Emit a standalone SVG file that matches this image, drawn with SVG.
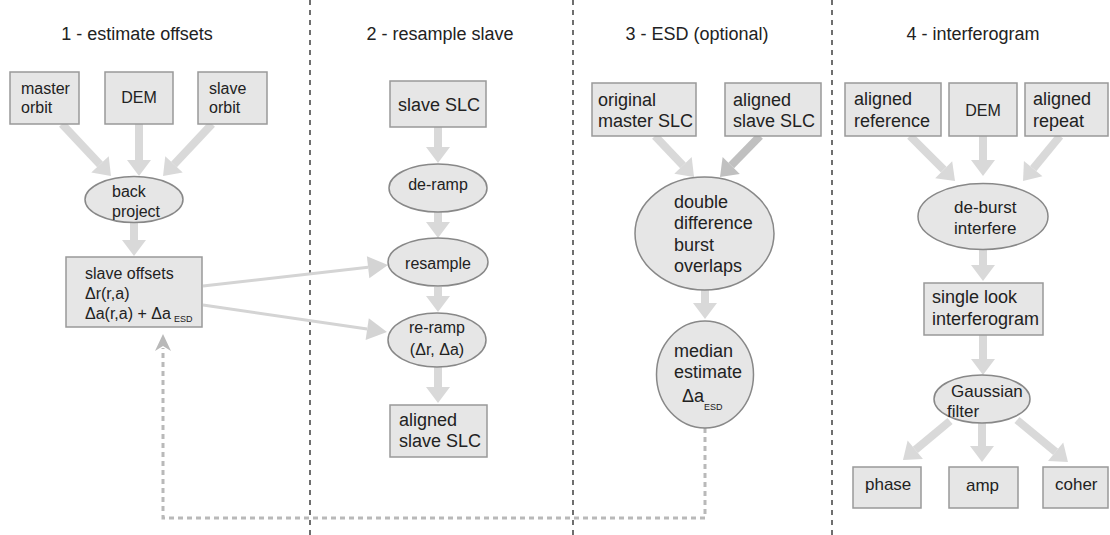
<svg xmlns="http://www.w3.org/2000/svg" width="1110" height="535" viewBox="0 0 1110 535">
<style>
text{font-family:"Liberation Sans",Arial,sans-serif;fill:#222;font-size:16px}
.t{font-size:18px}
.s18{font-size:18px}
.s17{font-size:17px}
.sub{font-size:9px}
.box{fill:#e6e6e6;stroke:#999;stroke-width:1.5}
.ell{fill:#e6e6e6;stroke:#888;stroke-width:1.5}
.sep{stroke:#222;stroke-width:1.3;stroke-dasharray:5,5;fill:none}
.thick{stroke:#d9d9d9;stroke-width:8;fill:none;marker-end:url(#ah)}
.dark{stroke:#c0c0c0;stroke-width:8;fill:none;marker-end:url(#ahd)}
.thin{stroke:#d4d4d4;stroke-width:3;fill:none;marker-end:url(#aht)}
.fb{stroke:#b9b9b9;stroke-width:3;stroke-dasharray:5,4;fill:none;marker-end:url(#ahf)}
.m{text-anchor:middle}
</style>
<defs>
<marker id="ah" markerUnits="userSpaceOnUse" markerWidth="20" markerHeight="26" refX="0" refY="0" orient="auto" overflow="visible"><path d="M0,-12 L16,0 L0,12 z" fill="#d9d9d9"/></marker>
<marker id="ahd" markerUnits="userSpaceOnUse" markerWidth="20" markerHeight="26" refX="0" refY="0" orient="auto" overflow="visible"><path d="M0,-12 L16,0 L0,12 z" fill="#c0c0c0"/></marker>
<marker id="aht" markerUnits="userSpaceOnUse" markerWidth="22" markerHeight="24" refX="0" refY="0" orient="auto" overflow="visible"><path d="M0,-11 L20,0 L0,11 z" fill="#d4d4d4"/></marker>
<marker id="ahf" markerUnits="userSpaceOnUse" markerWidth="18" markerHeight="18" refX="0" refY="0" orient="auto" overflow="visible"><path d="M-3,-8 L14,0 L-3,8 L2,0 z" fill="#b9b9b9"/></marker>
</defs>
<rect width="1110" height="535" fill="#fff"/>
<g id="separators">
<line class="sep" x1="310" y1="0" x2="310" y2="535"/>
<line class="sep" x1="573" y1="0" x2="573" y2="535"/>
<line class="sep" x1="832" y1="0" x2="832" y2="535"/>
</g>
<g id="titles">
<text class="t m" x="137" y="40">1 - estimate offsets</text>
<text class="t m" x="440" y="40">2 - resample slave</text>
<text class="t m" x="697" y="40">3 - ESD (optional)</text>
<text class="t m" x="973" y="40">4 - interferogram</text>
</g>
<g id="connectors">
<line class="thick" x1="62" y1="124" x2="100" y2="164.4"/>
<line class="thick" x1="139" y1="124" x2="139" y2="160"/>
<line class="thick" x1="212" y1="124" x2="174" y2="164.4"/>
<line class="thick" x1="134" y1="222" x2="134" y2="240"/>
<line class="thin" x1="203" y1="286" x2="368.1" y2="267.3"/>
<line class="thin" x1="203" y1="305" x2="367.2" y2="329.1"/>
<line class="thick" x1="438" y1="127" x2="438" y2="147"/>
<line class="thick" x1="438" y1="212" x2="438" y2="222"/>
<line class="thick" x1="438" y1="287" x2="438" y2="296"/>
<line class="thick" x1="438" y1="367" x2="438" y2="387"/>
<line class="thick" x1="655" y1="136" x2="683" y2="165.4"/>
<line class="dark" x1="760" y1="136" x2="731.2" y2="165.5"/>
<line class="thick" x1="705" y1="290" x2="705" y2="303"/>
<path class="fb" d="M705,428 L705,518 L163,518 L163,348"/>
<line class="thick" x1="910" y1="136" x2="943.7" y2="169.7"/>
<line class="thick" x1="983" y1="136" x2="983" y2="160"/>
<line class="thick" x1="1060" y1="136" x2="1033.2" y2="168.6"/>
<line class="thick" x1="983" y1="250" x2="983" y2="265"/>
<line class="thick" x1="983" y1="335" x2="983" y2="359"/>
<line class="thick" x1="950" y1="421" x2="915.3" y2="449.8"/>
<line class="thick" x1="982" y1="423" x2="982" y2="446"/>
<line class="thick" x1="1017" y1="420" x2="1055.6" y2="451.8"/>
</g>
<g id="master-orbit"><rect class="box" x="10" y="72" width="69" height="52"/><text x="21" y="94">master</text><text x="21" y="113">orbit</text></g>
<g id="dem1"><rect class="box" x="105" y="72" width="68" height="52"/><text class="m" x="139" y="103">DEM</text></g>
<g id="slave-orbit"><rect class="box" x="198" y="72" width="69" height="52"/><text x="209" y="94">slave</text><text x="209" y="113">orbit</text></g>
<g id="back-project"><ellipse class="ell" cx="134" cy="199.5" rx="49" ry="23"/><text x="112" y="197">back</text><text x="112" y="217">project</text></g>
<g id="slave-offsets"><rect class="box" x="66" y="257" width="136" height="70"/><text x="85" y="279">slave offsets</text><text x="85" y="299">Δr(r,a)</text><text x="85" y="319">Δa(r,a) + Δa</text><text class="sub" x="174" y="322">ESD</text></g>
<g id="slave-slc"><rect class="box" x="390" y="81" width="96" height="46"/><text class="s18" x="398" y="111">slave SLC</text></g>
<g id="de-ramp"><ellipse class="ell" cx="438" cy="188" rx="49" ry="24"/><text class="m" x="438" y="190">de-ramp</text></g>
<g id="resample"><ellipse class="ell" cx="438" cy="262" rx="50" ry="24"/><text class="m" x="438" y="269">resample</text></g>
<g id="re-ramp"><ellipse class="ell" cx="437" cy="340" rx="49" ry="27"/><text class="m" x="437" y="333">re-ramp</text><text class="m" x="437" y="355">(Δr, Δa)</text></g>
<g id="aligned-slave-slc"><rect class="box" x="390" y="405" width="97" height="52"/><text class="s18" x="399" y="426">aligned</text><text class="s18" x="399" y="447">slave SLC</text></g>
<g id="original-master-slc"><rect class="box" x="592" y="83" width="104" height="53"/><text class="s18" x="598" y="106">original</text><text class="s18" x="598" y="127">master SLC</text></g>
<g id="aligned-slave-slc-3"><rect class="box" x="725" y="83" width="96" height="53"/><text class="s18" x="733" y="106">aligned</text><text class="s18" x="733" y="127">slave SLC</text></g>
<g id="double-difference"><ellipse class="ell" cx="704.5" cy="233.5" rx="69.5" ry="56.5"/><text class="s18" x="674" y="207.5">double</text><text class="s18" x="674" y="229">difference</text><text class="s18" x="674" y="250.5">burst</text><text class="s18" x="674" y="272">overlaps</text></g>
<g id="median-estimate"><ellipse class="ell" cx="705" cy="374.5" rx="48.5" ry="53.5"/><text class="s18" x="674" y="357">median</text><text class="s18" x="674" y="378">estimate</text><text class="s18" x="682" y="402">Δa</text><text class="sub" x="704" y="410">ESD</text></g>
<g id="aligned-reference"><rect class="box" x="845" y="83" width="96" height="53"/><text class="s18" x="854" y="105">aligned</text><text class="s18" x="854" y="127">reference</text></g>
<g id="dem4"><rect class="box" x="949" y="83" width="68" height="53"/><text class="m" x="983" y="116">DEM</text></g>
<g id="aligned-repeat"><rect class="box" x="1025" y="83" width="83" height="53"/><text class="s18" x="1033" y="105">aligned</text><text class="s18" x="1033" y="127">repeat</text></g>
<g id="de-burst"><ellipse class="ell" cx="983" cy="216.5" rx="65" ry="33"/><text class="s17" x="954" y="213">de-burst</text><text class="s17" x="954" y="234">interfere</text></g>
<g id="single-look"><rect class="box" x="924" y="283" width="119" height="52"/><text class="s18" x="932" y="303">single look</text><text class="s18" x="932" y="325">interferogram</text></g>
<g id="gaussian"><ellipse class="ell" cx="982" cy="399" rx="48" ry="24"/><text class="s17" x="951" y="397">Gaussian</text><text class="s17" x="947" y="417">filter</text></g>
<g id="phase"><rect class="box" x="853" y="467" width="68" height="41"/><text class="s17" x="865" y="490">phase</text></g>
<g id="amp"><rect class="box" x="949" y="467" width="69" height="41"/><text class="s17" x="966" y="491">amp</text></g>
<g id="coher"><rect class="box" x="1043" y="467" width="65" height="41"/><text class="s17" x="1055" y="490">coher</text></g>
</svg>
